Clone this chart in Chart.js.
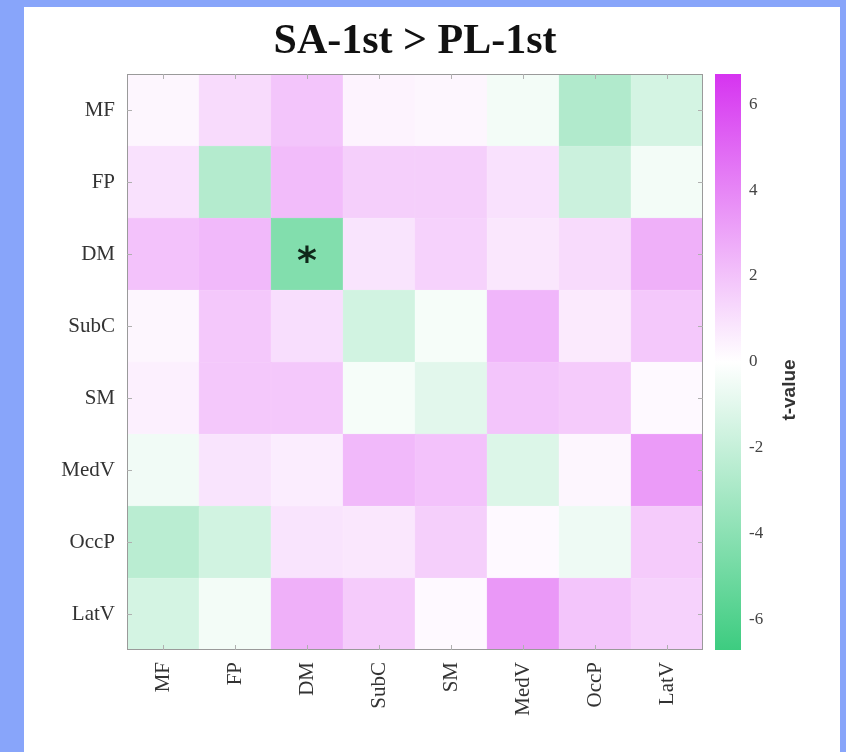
<!DOCTYPE html>
<html>
<head>
<meta charset="utf-8">
<script src="https://cdn.jsdelivr.net/npm/chart.js@4.4.1/dist/chart.umd.min.js"></script>
<style>
  body { margin: 0; width: 846px; height: 752px; overflow: hidden; position: relative; background: #88a5fa; }
  .panel { position: absolute; left: 24px; top: 7px; width: 816px; height: 745px; background: #fff; }
  #heat { position: absolute; left: 0; top: 0; }
  #cbar { position: absolute; left: 700px; top: 0; }
</style>
</head>
<body>
<div class="panel"></div>
<canvas id="heat" width="830" height="752"></canvas>
<canvas id="cbar" width="146" height="752"></canvas>
<script>
// ===== Data =====
const NETWORKS = ['MF', 'FP', 'DM', 'SubC', 'SM', 'MedV', 'OccP', 'LatV'];

// t-values, one row per network (top to bottom), columns left to right
const T_MF   = [0.3, 1.2, 1.9, 0.4, 0.3, -0.4, -2.7, -1.5];
const T_FP   = [1.0, -2.6, 2.2, 1.6, 1.6, 1.0, -1.8, -0.4];
const T_DM   = [2.0, 2.3, -4.3, 0.9, 1.5, 0.8, 1.2, 2.6];
const T_SUBC = [0.3, 1.8, 1.1, -1.6, -0.3, 2.4, 0.7, 1.8];
const T_SM   = [0.5, 1.8, 1.8, -0.3, -1.0, 1.9, 1.7, 0.2];
const T_MEDV = [-0.5, 0.9, 0.6, 2.3, 2.0, -1.2, 0.3, 3.3];
const T_OCCP = [-2.4, -1.6, 0.9, 0.8, 1.6, 0.2, -0.6, 1.7];
const T_LATV = [-1.5, -0.4, 2.6, 1.7, 0.2, 3.4, 1.9, 1.5];
const T_ROWS = [T_MF, T_FP, T_DM, T_SUBC, T_SM, T_MEDV, T_OCCP, T_LATV];

// significant cells [row, col]
const STARS = [[2, 2]];

const CB_TICKS = [-6, -4, -2, 0, 2, 4, 6];
const T_MIN = -6.7;
const T_MAX = 6.7;

// ===== Colour map =====
const GREEN = [61, 204, 128];
const WHITE = [255, 255, 255];
const MAGENTA = [214, 52, 240];

function tColor(t) {
  const f = Math.min(1, Math.abs(t) / T_MAX);
  const end = t < 0 ? GREEN : MAGENTA;
  const c = WHITE.map((w, i) => Math.round(w + (end[i] - w) * f));
  return `rgb(${c[0]},${c[1]},${c[2]})`;
}

const serif = "'Liberation Serif', 'DejaVu Serif', serif";

// frame, inward ticks and significance stars
const heatExtras = {
  id: 'heatExtras',
  afterDatasetsDraw(chart) {
    const { ctx, chartArea: a, scales: { x, y } } = chart;
    ctx.save();
    ctx.strokeStyle = '#9a9a9a';
    ctx.lineWidth = 1;
    ctx.strokeRect(a.left + 0.5, a.top + 0.5, a.right - a.left - 1, a.bottom - a.top - 1);
    ctx.strokeStyle = '#b0b0b0';
    ctx.beginPath();
    NETWORKS.forEach((_, i) => {
      const px = Math.round(x.getPixelForValue(i)) + 0.5;
      ctx.moveTo(px, a.bottom); ctx.lineTo(px, a.bottom - 5);
      ctx.moveTo(px, a.top); ctx.lineTo(px, a.top + 5);
      const py = Math.round(y.getPixelForValue(i + 0.5)) + 0.5;
      ctx.moveTo(a.left, py); ctx.lineTo(a.left + 5, py);
      ctx.moveTo(a.right, py); ctx.lineTo(a.right - 5, py);
    });
    ctx.stroke();
    ctx.fillStyle = '#10281a';
    ctx.font = "bold 38px 'DejaVu Sans', sans-serif";
    ctx.textAlign = 'center';
    ctx.textBaseline = 'middle';
    STARS.forEach(([r, c]) => {
      const px = x.getPixelForValue(c);
      const py = y.getPixelForValue(NETWORKS.length - r - 0.5);
      ctx.fillText('*', px, py + 9);
    });
    ctx.restore();
  }
};

// ===== Heatmap =====
new Chart(document.getElementById('heat'), {
  type: 'bar',
  data: {
    labels: NETWORKS,
    // stacked from bottom (LatV) to top (MF)
    datasets: T_ROWS.slice().reverse().map((row, i) => ({
      label: NETWORKS[NETWORKS.length - 1 - i],
      data: row.map(() => 1),
      backgroundColor: row.map(tColor),
      borderColor: row.map(tColor),
      borderWidth: 0.5,
      barPercentage: 1,
      categoryPercentage: 1,
    }))
  },
  options: {
    responsive: false,
    animation: false,
    layout: { padding: 0 },
    plugins: {
      legend: { display: false },
      tooltip: { enabled: false },
      title: {
        display: true,
        text: 'SA-1st > PL-1st',
        color: '#111',
        font: { family: serif, size: 42, weight: 'bold', lineHeight: 1.2 },
        padding: { top: 17, bottom: 6.6 }
      }
    },
    scales: {
      x: {
        stacked: true,
        grid: { display: false },
        border: { display: false },
        ticks: {
          color: '#333',
          font: { family: serif, size: 21 },
          minRotation: 90,
          maxRotation: 90,
          padding: 4,
          autoSkip: false
        },
        afterFit: axis => { axis.height = 102; }
      },
      y: {
        stacked: true,
        min: 0,
        max: NETWORKS.length,
        grid: { display: false },
        border: { display: false },
        afterBuildTicks: axis => {
          axis.ticks = NETWORKS.map((_, i) => ({ value: i + 0.5 }));
        },
        ticks: {
          color: '#333',
          font: { family: serif, size: 21 },
          padding: 4,
          autoSkip: false,
          callback: v => NETWORKS[NETWORKS.length - 1 - Math.floor(v)]
        },
        afterFit: axis => { axis.width = 127; }
      },
      // empty right axis, balances the left one so the title sits over the matrix
      yPad: {
        position: 'right',
        grid: { display: false },
        border: { display: false },
        ticks: { display: false },
        afterFit: axis => { axis.width = 127; }
      }
    }
  },
  plugins: [heatExtras]
});

// ===== Colour bar =====
const cbarLabel = {
  id: 'cbarLabel',
  afterDraw(chart) {
    const { ctx, chartArea: a } = chart;
    ctx.save();
    ctx.translate(90, (a.top + a.bottom) / 2 + 28);
    ctx.rotate(-Math.PI / 2);
    ctx.fillStyle = '#333';
    ctx.font = "bold 19px 'Liberation Sans', Arial, sans-serif";
    ctx.textAlign = 'center';
    ctx.textBaseline = 'middle';
    ctx.fillText('t-value', 0, 0);
    ctx.restore();
  }
};

new Chart(document.getElementById('cbar'), {
  type: 'bar',
  data: {
    labels: [''],
    datasets: [{
      data: [[T_MIN, T_MAX]],
      backgroundColor: ctx => {
        const a = ctx.chart.chartArea;
        if (!a) return null;
        const g = ctx.chart.ctx.createLinearGradient(0, a.bottom, 0, a.top);
        g.addColorStop(0, tColor(T_MIN));
        g.addColorStop(0.5, tColor(0));
        g.addColorStop(1, tColor(T_MAX));
        return g;
      },
      borderWidth: 0,
      barPercentage: 1,
      categoryPercentage: 1,
    }]
  },
  options: {
    responsive: false,
    animation: false,
    layout: { padding: { left: 15, right: 0, top: 74, bottom: 102 } },
    plugins: { legend: { display: false }, tooltip: { enabled: false } },
    scales: {
      x: { display: false },
      y: {
        position: 'right',
        min: T_MIN,
        max: T_MAX,
        grid: { display: false },
        border: { display: false },
        afterBuildTicks: axis => {
          axis.ticks = CB_TICKS.map(v => ({ value: v }));
        },
        ticks: {
          color: '#444',
          font: { family: serif, size: 17 },
          padding: 0
        },
        afterFit: axis => { axis.width = 105; }
      }
    }
  },
  plugins: [cbarLabel]
});
</script>
</body>
</html>
